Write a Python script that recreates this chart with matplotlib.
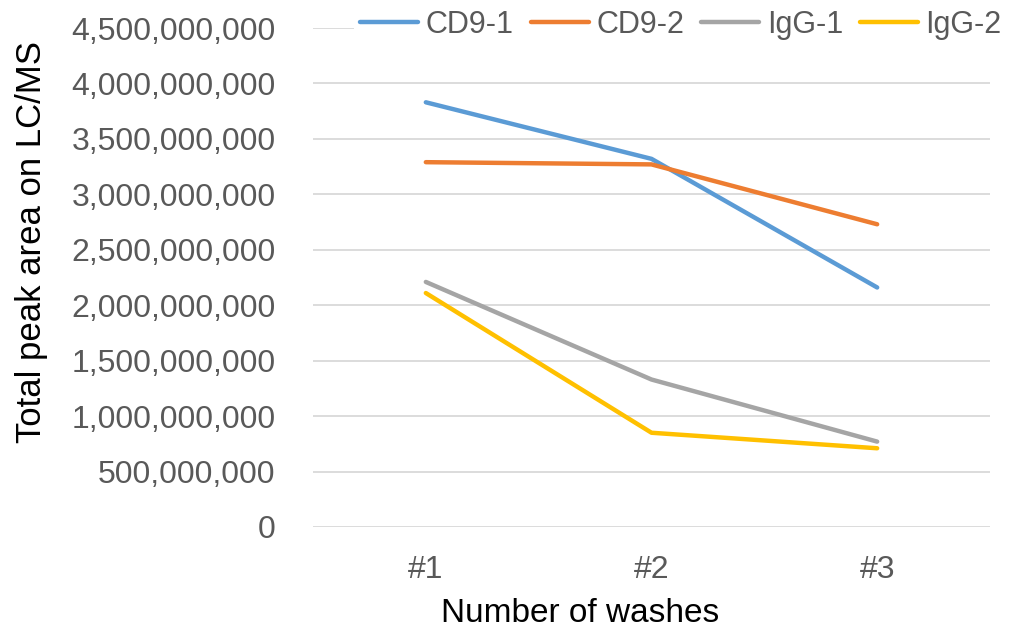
import numpy as np
import matplotlib.pyplot as plt
from matplotlib.ticker import FuncFormatter

plt.rcParams['font.family'] = ['Liberation Sans', 'DejaVu Sans']

washes = ['#1', '#2', '#3']
cd9_1 = [3.83e9, 3.32e9, 2.16e9]
cd9_2 = [3.29e9, 3.27e9, 2.73e9]
igg_1 = [2.21e9, 1.33e9, 0.77e9]
igg_2 = [2.11e9, 0.85e9, 0.71e9]

series = [('CD9-1', cd9_1, '#5B9BD5'),
          ('CD9-2', cd9_2, '#ED7D31'),
          ('IgG-1', igg_1, '#A5A5A5'),
          ('IgG-2', igg_2, '#FFC000')]

grey_txt = '#595959'

fig = plt.figure(figsize=(10.15, 6.32), dpi=100)
ax = fig.add_axes([313 / 1015, 105 / 632, 677 / 1015, 499 / 632])

x = np.arange(len(washes)) + 0.5
for name, vals, col in series:
    ax.plot(x, vals, color=col, lw=3.2, label=name, solid_capstyle='round', zorder=3)

ax.set_xlim(0, 3)
ax.set_ylim(0, 4.5e9)
ax.set_yticks(np.arange(0, 4.5e9 + 1, 0.5e9))
ax.yaxis.set_major_formatter(FuncFormatter(lambda v, p: f'{int(round(v)):,}'))
ax.set_xticks(x)
ax.set_xticklabels(washes)

ax.grid(axis='y', color='#D9D9D9', lw=1.3, zorder=0)
for s in ax.spines.values():
    s.set_visible(False)
ax.tick_params(length=0, labelsize=23, labelcolor=grey_txt)
ax.tick_params(axis='y', pad=27)
ax.tick_params(axis='x', pad=20)

ax.set_ylabel('Total peak area on LC/MS', fontsize=25, color='black')
ax.yaxis.set_label_coords(-0.391, 0.571)
ax.set_xlabel('Number of washes', fontsize=24, color='black')
ax.xaxis.set_label_coords(0.394, -0.142)

leg = fig.legend(loc='center', bbox_to_anchor=(681 / 1015, 1 - 25 / 632), ncol=4,
                 fontsize=22, frameon=True, facecolor='white', edgecolor='none',
                 framealpha=1, handlelength=1.9, handletextpad=0.25,
                 columnspacing=0.55, borderpad=0.2)
for t in leg.get_texts():
    t.set_color(grey_txt)
for h in leg.get_lines():
    h.set_linewidth(3.2)

fig.savefig('out.png', dpi=100)
